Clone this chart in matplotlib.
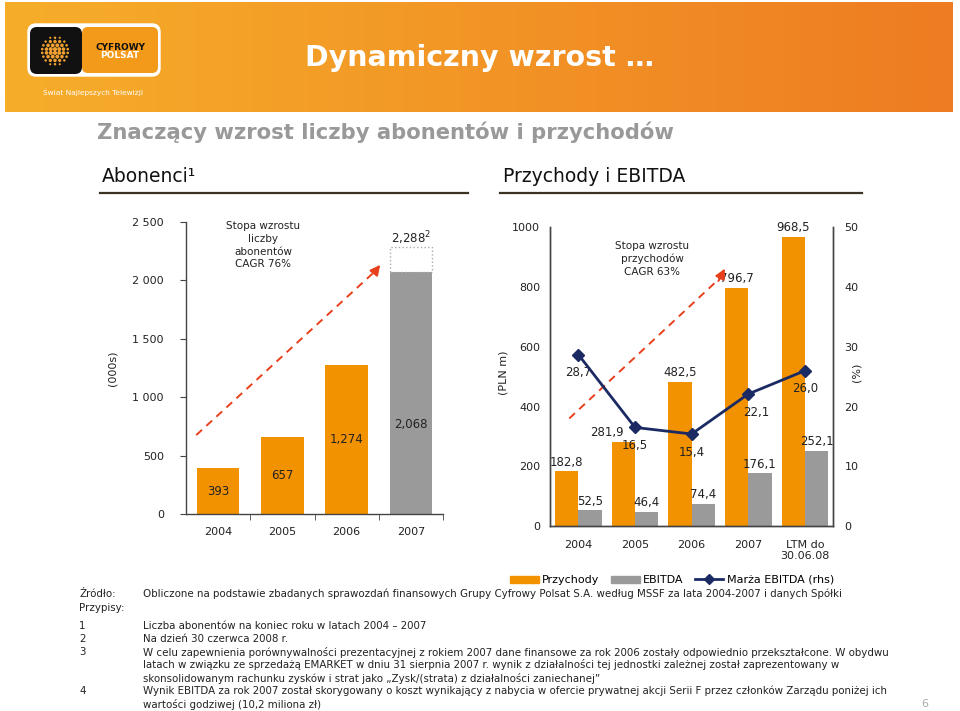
import numpy as np
import matplotlib.pyplot as plt
from matplotlib.patches import FancyBboxPatch, Patch, Circle
from matplotlib.lines import Line2D

# subscribers (000s)
sub_years = ["2004", "2005", "2006", "2007"]
subscribers = [393, 657, 1274, 2068]
subscribers_jun08 = 2288
sub_labels = ["393", "657", "1,274", "2,068"]

# revenue / EBITDA (PLN m) and EBITDA margin (%)
fin_periods = ["2004", "2005", "2006", "2007", "LTM do\n30.06.08"]
revenue = [182.8, 281.9, 482.5, 796.7, 968.5]
ebitda = [52.5, 46.4, 74.4, 176.1, 252.1]
margin = [28.7, 16.5, 15.4, 22.1, 26.0]

footnotes = [
    ("Źródło:", "Obliczone na podstawie zbadanych sprawozdań finansowych Grupy Cyfrowy Polsat S.A. według MSSF za lata 2004-2007 i danych Spółki"),
    ("Przypisy:", ""),
    ("1", "Liczba abonentów na koniec roku w latach 2004 – 2007"),
    ("2", "Na dzień 30 czerwca 2008 r."),
    ("3", "W celu zapewnienia porównywalności prezentacyjnej z rokiem 2007 dane finansowe za rok 2006 zostały odpowiednio przekształcone. W obydwu"),
    ("", "latach w związku ze sprzedażą EMARKET w dniu 31 sierpnia 2007 r. wynik z działalności tej jednostki zależnej został zaprezentowany w"),
    ("", "skonsolidowanym rachunku zysków i strat jako „Zysk/(strata) z działalności zaniechanej”"),
    ("4", "Wynik EBITDA za rok 2007 został skorygowany o koszt wynikający z nabycia w ofercie prywatnej akcji Serii F przez członków Zarządu poniżej ich"),
    ("", "wartości godziwej (10,2 miliona zł)"),
]
footnote_y = [594, 608, 626, 639, 652, 665, 678, 691, 704]

ORANGE = "#f39200"
GREY = "#9a9a9a"
NAVY = "#1b2a63"
RED = "#e8401c"
DARK = "#222222"

plt.rcParams["font.family"] = ["DejaVu Sans"]

W, H = 960, 711
fig = plt.figure(figsize=(W / 100, H / 100), dpi=100)


def fx(px):
    return px / W


def fy(py):
    return 1 - py / H


def pl(v):
    return f"{v:.1f}".replace(".", ",")


# ---- decoration layer in pixel coords ----
deco = fig.add_axes([0, 0, 1, 1], zorder=-1)
deco.set_xlim(0, W)
deco.set_ylim(H, 0)
deco.axis("off")

left_c = np.array([246, 174, 42]) / 255
right_c = np.array([238, 124, 34]) / 255
t = np.linspace(0, 1, 400)
grad = (left_c[None, :] * (1 - t[:, None]) + right_c[None, :] * t[:, None])[None, :, :]
deco.imshow(grad, extent=(5, 953, 112, 2), aspect="auto")

# logo
deco.add_patch(FancyBboxPatch((28, 24), 132, 52, boxstyle="round,pad=0,rounding_size=8",
                              fc="white", ec="white", lw=1))
deco.add_patch(FancyBboxPatch((82, 27), 76, 46, boxstyle="round,pad=0,rounding_size=6",
                              fc="#f39a1a", ec="none"))
deco.add_patch(FancyBboxPatch((30, 27), 52, 47, boxstyle="round,pad=0,rounding_size=7",
                              fc="#111111", ec="none"))
gx, gy, gr = 55, 51, 15
for lat in np.linspace(-0.88, 0.88, 8):
    row_r = gr * np.sqrt(1 - lat ** 2)
    n = max(3, int(2 * row_r / 4.0))
    for k in range(n):
        lon = -1 + (2 * k + 1) / n
        s = 1.6 * np.sqrt(1 - lon ** 2) * np.sqrt(1 - lat ** 2) + 0.5
        deco.add_patch(Circle((gx + lon * row_r, gy + lat * gr), s, fc="#f0a030", ec="none"))
deco.text(120, 47, "CYFROWY", fontsize=6.5, fontweight="bold", color="#111111", ha="center", va="center")
deco.text(120, 56, "POLSAT", fontsize=6.5, fontweight="bold", color="white", ha="center", va="center")
deco.text(93, 92, "Świat Najlepszych Telewizji", fontsize=5.3, color="white", ha="center", va="center")

deco.text(305, 58, "Dynamiczny wzrost …", fontsize=20.5, fontweight="bold", color="white",
          ha="left", va="center")
deco.text(97, 132, "Znaczący wzrost liczby abonentów i przychodów", fontsize=15.2,
          fontweight="bold", color="#999999", ha="left", va="center")

deco.text(102, 176, "Abonenci¹", fontsize=13.5, color="#111111", ha="left", va="center")
deco.plot([100, 468], [193, 193], color="#3a3222", lw=1.6)
deco.text(503, 176, "Przychody i EBITDA", fontsize=13.5, color="#111111", ha="left", va="center")
deco.plot([500, 862], [193, 193], color="#3a3222", lw=1.6)

deco.text(113, 368, "(000s)", fontsize=8, rotation=90, ha="center", va="center", color=DARK)
deco.text(503, 373, "(PLN m)", fontsize=8, rotation=90, ha="center", va="center", color=DARK)
deco.text(857, 372, "(%)", fontsize=8, rotation=90, ha="center", va="center", color=DARK)

for (head, body), y in zip(footnotes, footnote_y):
    deco.text(79, y, head, fontsize=7.4, color=DARK, ha="left", va="center")
    deco.text(143, y, body, fontsize=7.4, color=DARK, ha="left", va="center")
deco.text(925, 704, "6", fontsize=8, color="#aaaaaa", ha="center", va="center")

# ---- left chart: subscribers ----
ax1 = fig.add_axes([fx(186), fy(514.3), fx(443) - fx(186), fy(221.7) - fy(514.3)])
ax1.patch.set_alpha(0)
x1 = np.arange(len(sub_years))
ax1.bar(x1, subscribers, width=0.66, color=[ORANGE] * 3 + [GREY], zorder=2)
ax1.bar(x1[-1], subscribers_jun08 - subscribers[-1], bottom=subscribers[-1], width=0.66,
        fill=False, ls=":", ec="#aaaaaa", lw=1, zorder=3)
label_frac = [0.5, 0.5, 0.5, 0.37]
for xi, v, lab, f in zip(x1, subscribers, sub_labels, label_frac):
    ax1.text(xi, v * f, lab, ha="center", va="center", fontsize=8.5, color=DARK, zorder=4)
ax1.text(x1[-1], subscribers_jun08, "2,288$^{2}$", ha="center", va="bottom", fontsize=8.5, color=DARK)
ax1.text(0.7, 2300, "Stopa wzrostu\nliczby\nabonentów\nCAGR 76%", ha="center", va="center",
         fontsize=7.5, linespacing=1.35, color=DARK)
ax1.plot([-0.34, 2.45], [677, 2080], ls=(0, (4, 3)), color=RED, lw=1.4)
ax1.annotate("", xy=(2.55, 2150), xytext=(2.4, 2045),
             arrowprops=dict(arrowstyle="-|>,head_length=0.6,head_width=0.3", color=RED, lw=1.4))
ax1.set_xlim(-0.5, 3.5)
ax1.set_ylim(0, 2500)
ax1.set_yticks(range(0, 2501, 500))
ax1.set_yticklabels(["0", "500", "1 000", "1 500", "2 000", "2 500"])
ax1.set_xticks(x1)
ax1.set_xticklabels(sub_years)
ax1.set_xticks([0.5, 1.5, 2.5, 3.5], minor=True)
ax1.tick_params(axis="x", which="major", length=0, pad=9, labelsize=8, labelcolor=DARK)
ax1.tick_params(axis="x", which="minor", length=4, direction="out", color="#444444")
ax1.tick_params(axis="y", length=4, direction="out", pad=12, labelsize=8, labelcolor=DARK, color="#444444")
for side in ["top", "right"]:
    ax1.spines[side].set_visible(False)
for side in ["left", "bottom"]:
    ax1.spines[side].set_color("#444444")
    ax1.spines[side].set_linewidth(1)

# ---- right chart: revenue, EBITDA, margin ----
ax2 = fig.add_axes([fx(550), fy(526), fx(833.3) - fx(550), fy(227.3) - fy(526)])
ax2.patch.set_alpha(0)
x2 = np.arange(len(fin_periods))
bw = 0.41
ax2.bar(x2 - bw / 2, revenue, width=bw, color=ORANGE, zorder=2)
ax2.bar(x2 + bw / 2, ebitda, width=bw, color=GREY, zorder=2)
rev_dx = [0, -12, 0, 0, 0]
for xi, v, dx in zip(x2, revenue, rev_dx):
    ax2.annotate(pl(v), (xi - bw / 2, v), xytext=(dx, 2), textcoords="offset points",
                 ha="center", va="bottom", fontsize=8.5, color=DARK)
for xi, v in zip(x2, ebitda):
    ax2.annotate(pl(v), (xi + bw / 2, v), xytext=(0, 2), textcoords="offset points",
                 ha="center", va="bottom", fontsize=8.5, color=DARK)
ax2.text(1.3, 895, "Stopa wzrostu\nprzychodów\nCAGR 63%", ha="center", va="center",
         fontsize=7.5, linespacing=1.35, color=DARK)
ax2.plot([-0.16, 2.5], [360, 830], ls=(0, (4, 3)), color=RED, lw=1.4)
ax2.annotate("", xy=(2.61, 870), xytext=(2.45, 812),
             arrowprops=dict(arrowstyle="-|>,head_length=0.6,head_width=0.3", color=RED, lw=1.4))
ax2.set_xlim(-0.5, 4.5)
ax2.set_ylim(0, 1000)
ax2.set_yticks(range(0, 1001, 200))
ax2.set_xticks(x2)
ax2.set_xticklabels(fin_periods)
ax2.tick_params(axis="x", length=0, pad=10, labelsize=8, labelcolor=DARK)
ax2.tick_params(axis="y", length=0, pad=7, labelsize=8, labelcolor=DARK)

ax3 = ax2.twinx()
ax3.plot(x2, margin, color=NAVY, lw=2, marker="D", markersize=6, zorder=5)
margin_dx = [0, 0, 0, 6, 0]
for xi, v, dx in zip(x2, margin, margin_dx):
    ax3.annotate(pl(v), (xi, v), xytext=(dx, -13), textcoords="offset points",
                 ha="center", va="center", fontsize=8.5, color=DARK)
ax3.set_ylim(0, 50)
ax3.set_yticks(range(0, 51, 10))
ax3.tick_params(axis="y", length=0, pad=8, labelsize=8, labelcolor=DARK)
for a in (ax2, ax3):
    a.spines["top"].set_visible(False)
    for side in ["left", "right", "bottom"]:
        a.spines[side].set_color("#444444")
        a.spines[side].set_linewidth(1)

handles = [Patch(color=ORANGE), Patch(color=GREY),
           Line2D([], [], color=NAVY, lw=2, marker="D", markersize=5)]
fig.legend(handles, ["Przychody", "EBITDA", "Marża EBITDA (rhs)"], loc="center",
           bbox_to_anchor=(fx(672), fy(580)), ncol=3, frameon=False, fontsize=8,
           handlelength=2.6, handleheight=0.6, handletextpad=0.3, columnspacing=1.0)

fig.savefig("out.png", dpi=100)
